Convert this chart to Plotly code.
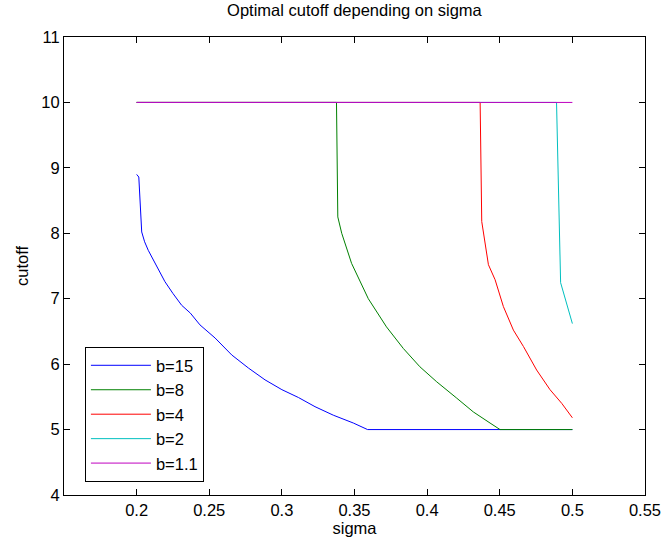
import plotly.graph_objects as go

# b = 15
sigma_b15 = [0.2, 0.2015, 0.2035, 0.2055, 0.208, 0.2105, 0.214, 0.2195, 0.225, 0.231,
             0.237, 0.2436, 0.254, 0.2655, 0.277, 0.2884, 0.30, 0.3114, 0.3228, 0.3354,
             0.3492, 0.359, 0.5]
cutoff_b15 = [8.90, 8.86, 8.02, 7.87, 7.74, 7.64, 7.49, 7.26, 7.08, 6.90,
              6.78, 6.60, 6.40, 6.14, 5.94, 5.76, 5.61, 5.49, 5.35, 5.22,
              5.10, 5.0, 5.0]
# b = 8
sigma_b8 = [0.2, 0.3376, 0.3385, 0.3412, 0.348, 0.3595, 0.372, 0.3836, 0.395, 0.4066,
            0.4204, 0.4318, 0.4433, 0.4502, 0.5]
cutoff_b8 = [10, 10, 8.25, 8.0, 7.54, 7.0, 6.57, 6.24, 5.96, 5.73,
             5.48, 5.27, 5.10, 5.0, 5.0]
# b = 4
sigma_b4 = [0.2, 0.4365, 0.4376, 0.4422, 0.4468, 0.4525, 0.4594, 0.4663, 0.4754, 0.4846,
            0.4927, 0.5]
cutoff_b4 = [10, 10, 8.18, 7.52, 7.29, 6.88, 6.52, 6.27, 5.91, 5.61, 5.40, 5.18]
# b = 2
sigma_b2 = [0.2, 0.4891, 0.4919, 0.5]
cutoff_b2 = [10, 10, 7.245, 6.62]
# b = 1.1
sigma_b11 = [0.2, 0.5]
cutoff_b11 = [10, 10]

series = [
    ("b=15", sigma_b15, cutoff_b15, "#0000FF"),
    ("b=8", sigma_b8, cutoff_b8, "#008000"),
    ("b=4", sigma_b4, cutoff_b4, "#FF0000"),
    ("b=2", sigma_b2, cutoff_b2, "#00BFBF"),
    ("b=1.1", sigma_b11, cutoff_b11, "#BF00BF"),
]

x_ticks = [0.2, 0.25, 0.3, 0.35, 0.4, 0.45, 0.5, 0.55]
y_ticks = [4, 5, 6, 7, 8, 9, 10, 11]

FONT = "Liberation Sans, Arial, sans-serif"

fig = go.Figure()
for i, (name, xs, ys, col) in enumerate(series):
    fig.add_trace(go.Scatter(x=xs, y=ys, mode="lines", name=name,
                             line=dict(color=col, width=1)))

axis_common = dict(showline=True, linecolor="black", linewidth=1, mirror="ticks",
                   ticks="inside", ticklen=6, tickcolor="black", showgrid=False,
                   zeroline=False, automargin=False,
                   tickfont=dict(size=16.5, color="black", family=FONT))

fig.update_layout(
    width=665, height=546,
    margin=dict(l=64, r=20, t=37, b=51),
    paper_bgcolor="white", plot_bgcolor="white",
    font=dict(family=FONT, size=16.5, color="black"),
    title=dict(text="Optimal cutoff depending on sigma", x=0.533, xanchor="center",
               y=0.992, yanchor="top", font=dict(size=16.5, color="black", family=FONT)),
    xaxis=dict(range=[0.15, 0.55], tickvals=x_ticks, ticktext=[f"{v:g}" for v in x_ticks],
               title=dict(text="sigma", standoff=4, font=dict(size=16.5)), **axis_common),
    yaxis=dict(range=[4, 11], tickvals=y_ticks, ticktext=[str(v) for v in y_ticks],
               title=dict(text="cutoff", standoff=8, font=dict(size=16.5)), **axis_common),
    legend=dict(x=0.036, y=0.323, xanchor="left", yanchor="top",
                bordercolor="black", borderwidth=1, bgcolor="white",
                font=dict(size=16.5, family=FONT), itemwidth=60,
                traceorder="normal"),
    showlegend=True,
)

fig.write_html("out.html")
